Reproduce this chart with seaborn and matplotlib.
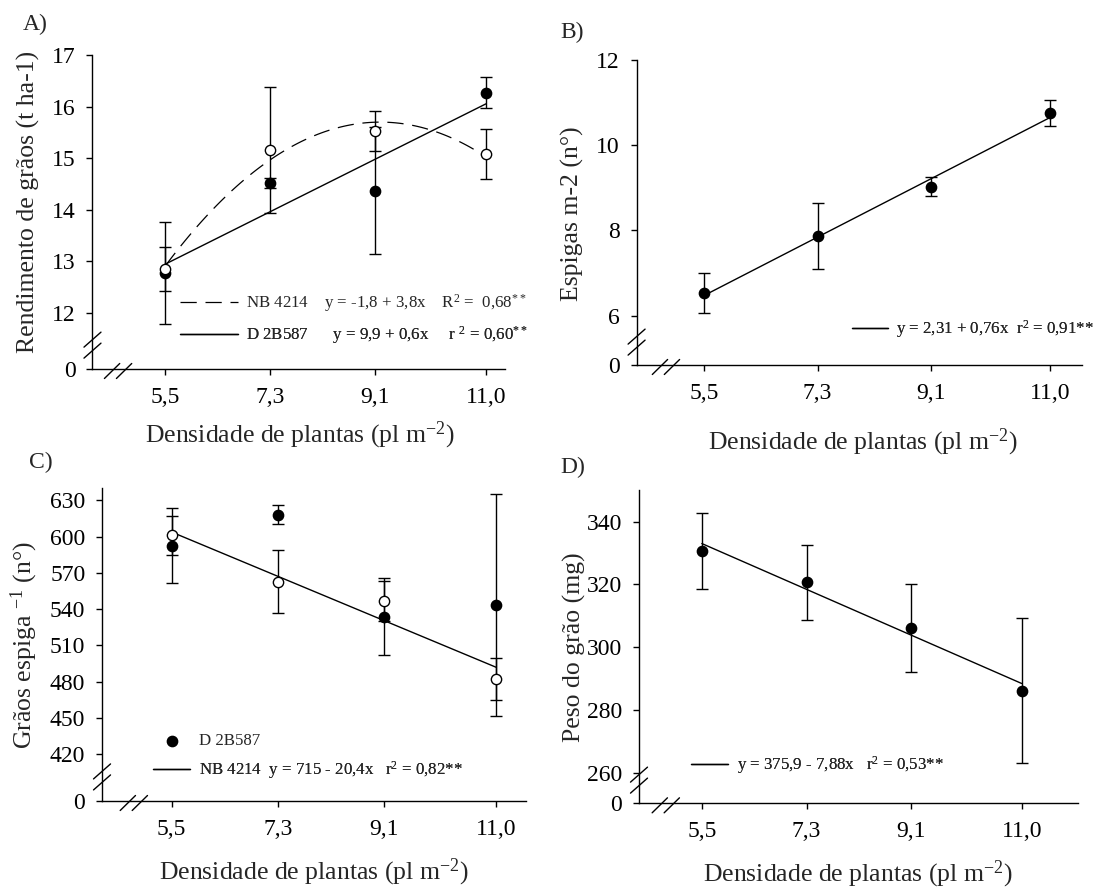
import matplotlib
matplotlib.use('Agg')
import matplotlib.pyplot as plt
import seaborn as sns

# plant density levels (x axis)
densidade = [5.5, 7.3, 9.1, 11.0]
dens_labels = ['5,5', '7,3', '9,1', '11,0']

# A) grain yield (t/ha), open = NB 4214, filled = D 2B587
rend_nb = [12.85, 15.15, 15.52, 15.08]
rend_nb_err = [0.42, 1.22, 0.39, 0.49]
rend_d = [12.78, 14.52, 14.37, 16.27]
rend_d_err = [0.99, 0.10, 1.23, 0.30]

# B) ears per m2
espigas = [6.52, 7.87, 9.03, 10.76]
espigas_err = [0.47, 0.78, 0.22, 0.30]

# C) grains per ear
graos_d = [592.7, 618.1, 533.9, 543.3]
graos_d_err = [31, 8, 32, 92]
graos_nb = [601.0, 562.9, 547.1, 482.5]
graos_nb_err = [16.5, 26, 16.6, 17.5]

# D) grain weight (mg)
peso = [330.7, 320.7, 306.2, 286.3]
peso_err = [12, 12, 14, 23]

W, H = 1097, 890

sns.set_style('ticks')
plt.rcParams['font.family'] = ['Liberation Serif', 'DejaVu Serif']
plt.rcParams['mathtext.default'] = 'regular'

fig = plt.figure(figsize=(W / 100, H / 100), dpi=100)

LBL = 18.5
TICK = 17
LEG = 12.2


def setup_axis(ax, xlim, ylim, yticks, ylabels, ylabel, ylabel_xy, xlabel_xy):
    ax.set_xlim(*xlim)
    ax.set_ylim(*ylim)
    ax.set_xticks(densidade)
    ax.set_xticklabels(dens_labels)
    ax.set_yticks(yticks)
    ax.set_yticklabels(ylabels)
    sns.despine(ax=ax)
    for s in ['left', 'bottom']:
        ax.spines[s].set_linewidth(1.0)
        ax.spines[s].set_color('black')
    ax.tick_params(direction='out', length=4, width=1, labelsize=TICK, colors='black')
    ax.tick_params(axis='x', pad=9)
    ax.tick_params(axis='y', pad=8)
    ax.set_ylabel(ylabel, fontsize=LBL)
    ax.set_xlabel('Densidade de plantas (pl m$^{-2}$)', fontsize=LBL, va='top')
    ax.yaxis.set_label_coords(*ylabel_xy)
    ax.xaxis.set_label_coords(*xlabel_xy)


def breaks(ax, rect, ybreak, xbreak):
    # double slash marks on both axes
    wpx = rect[2] * W
    hpx = rect[3] * H
    dx, dy = 8.5 / wpx, 7.5 / hpx
    for k in (-1, 1):
        cy = ybreak + k * 5.5 / hpx
        ax.plot([-dx, dx], [cy - dy, cy + dy], color='black', lw=1,
                transform=ax.transAxes, clip_on=False)
        cx = xbreak + k * 6 / wpx
        ax.plot([cx - dx * 0.9, cx + dx * 0.9], [-dy - 2 / hpx, dy - 2 / hpx], color='black', lw=1,
                transform=ax.transAxes, clip_on=False)


def legend_row(ax, handle, text, x, y, hlen):
    leg = ax.legend([handle], [text], loc='center left', bbox_to_anchor=(x, y),
                    frameon=False, borderpad=0, borderaxespad=0, handlelength=hlen,
                    handletextpad=0.5, fontsize=LEG, scatterpoints=1)
    ax.add_artist(leg)


def points(ax, y, err, filled, z=4):
    ax.errorbar(densidade, y, yerr=err, fmt='none', ecolor='black', elinewidth=1,
                capsize=4.5, capthick=1, zorder=3)
    sns.scatterplot(x=densidade, y=y, ax=ax, s=55, color='black' if filled else 'white',
                    edgecolor='black', linewidth=1, zorder=z, legend=False)
    return ax.collections[-1]


line_kw = dict(color='black', lw=1)

# ---------------- A ----------------
rectA = [0.0843, 0.5854, 0.3763, 0.3528]
axA = fig.add_axes(rectA)
sns.regplot(x=densidade, y=rend_nb, order=2, ci=None, scatter=False, ax=axA,
            line_kws=dict(color='black', lw=0.9, ls=(0, (13, 7))))
dashA = axA.lines[-1]
sns.regplot(x=densidade, y=rend_d, ci=None, scatter=False, ax=axA, line_kws=line_kw)
solidA = axA.lines[-1]
points(axA, rend_d, rend_d_err, True, z=4)
points(axA, rend_nb, rend_nb_err, False, z=5)
setup_axis(axA, (4.25, 11.33), (10.91, 17), [10.91, 12, 13, 14, 15, 16, 17],
           ['0', '12', '13', '14', '15', '16', '17'],
           'Rendimento de grãos (t ha-1)', (-0.127, 0.532), (0.503, -0.162))
breaks(axA, rectA, 0.076, 0.062)
legend_row(axA, dashA, 'NB 4214    y = -1,8 + 3,8x    R$^{2}$ =  0,68$^{**}$', 0.212, 0.21, 3.4)
legend_row(axA, solidA, 'D 2B587      y = 9,9 + 0,6x     r $^{2}$ = 0,60$^{**}$', 0.212, 0.108, 3.4)

# ---------------- B ----------------
rectB = [0.5803, 0.5899, 0.4057, 0.3427]
axB = fig.add_axes(rectB)
sns.regplot(x=densidade, y=espigas, ci=None, scatter=False, ax=axB, line_kws=line_kw)
lineB = axB.lines[-1]
points(axB, espigas, espigas_err, True)
setup_axis(axB, (4.42, 11.5), (4.84, 12), [4.84, 6, 8, 10, 12],
           ['0', '6', '8', '10', '12'],
           'Espigas m-2 (n°)', (-0.118, 0.497), (0.509, -0.203))
breaks(axB, rectB, 0.075, 0.066)
legend_row(axB, lineB, 'y = 2,31 + 0,76x  r$^{2}$ = 0,91**', 0.485, 0.118, 2.1)

# ---------------- C ----------------
rectC = [0.0930, 0.1000, 0.3868, 0.3513]
axC = fig.add_axes(rectC)
sns.regplot(x=densidade, y=graos_nb, ci=None, scatter=False, ax=axC, line_kws=line_kw)
lineC = axC.lines[-1]
markC = points(axC, graos_d, graos_d_err, True, z=4)
points(axC, graos_nb, graos_nb_err, False, z=5)
setup_axis(axC, (4.32, 11.51), (381.3, 640), [381.3, 420, 450, 480, 510, 540, 570, 600, 630],
           ['0', '420', '450', '480', '510', '540', '570', '600', '630'],
           'Grãos espiga $^{-1}$ (n°)', (-0.146, 0.499), (0.5, -0.178))
breaks(axC, rectC, 0.077, 0.075)
legend_row(axC, markC, 'D 2B587', 0.12, 0.192, 2.2)
legend_row(axC, lineC, 'NB 4214  y = 715 - 20,4x   r$^{2}$ = 0,82**', 0.12, 0.099, 2.2)

# ---------------- D ----------------
rectD = [0.5825, 0.0974, 0.4004, 0.3520]
axD = fig.add_axes(rectD)
sns.regplot(x=densidade, y=peso, ci=None, scatter=False, ax=axD, line_kws=line_kw)
lineD = axD.lines[-1]
points(axD, peso, peso_err, True)
setup_axis(axD, (4.42, 11.97), (250.5, 350), [250.5, 260, 280, 300, 320, 340],
           ['0', '260', '280', '300', '320', '340'],
           'Peso do grão (mg)', (-0.121, 0.497), (0.499, -0.176))
breaks(axD, rectD, 0.074, 0.061)
legend_row(axD, lineD, 'y = 375,9 - 7,88x   r$^{2}$ = 0,53**', 0.118, 0.122, 2.2)

# panel letters
for lab, (px, py) in zip(['A)', 'B)', 'C)', 'D)'],
                         [(35, 24), (572, 32), (41, 462), (573, 467)]):
    fig.text(px / W, 1 - py / H, lab, fontsize=17, ha='center', va='center')

fig.savefig('out.png', dpi=100)
